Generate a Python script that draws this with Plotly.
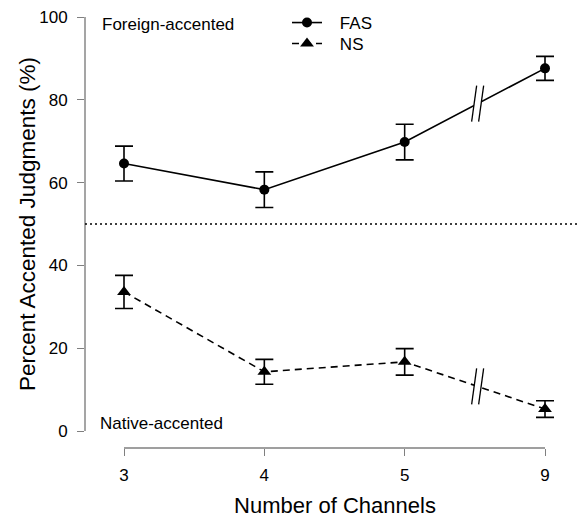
import plotly.graph_objects as go

channels = ["3", "4", "5", "9"]
fas = [64.6, 58.3, 69.8, 87.6]
fas_err = [4.2, 4.3, 4.3, 2.9]
ns = [33.6, 14.3, 16.7, 5.3]
ns_err = [4.0, 3.0, 3.2, 2.0]
y_ticks = [0, 20, 40, 60, 80, 100]

xs = list(range(len(channels)))
FONT = "Arial, Liberation Sans, sans-serif"
GREY = "#7f7f7f"

# page body has an 8px margin: figure is sized/offset to compensate
W, H = 577, 510
L, T, B, R = 77, 9, 70, 0
PW = W - L - R
PH = H - T - B

PAD = "\u00a0\u00a0\u2009"

fig = go.Figure()
fig.add_trace(go.Scatter(
    x=xs, y=fas, name=PAD + "FAS", mode="lines+markers", legend="legend",
    line=dict(color="black", width=1.6),
    marker=dict(symbol="circle", size=10, color="black"),
    error_y=dict(type="data", array=fas_err, color="black", thickness=1.6, width=9),
))
fig.add_trace(go.Scatter(
    x=xs, y=ns, name=PAD + "NS", mode="lines+markers", legend="legend2",
    line=dict(color="black", width=1.6, dash="7px,5px"),
    marker=dict(symbol="triangle-up", size=12, color="black"),
    error_y=dict(type="data", array=ns_err, color="black", thickness=1.6, width=9),
))

shapes = []
shapes.append(dict(type="line", xref="paper", yref="y", x0=0, x1=0, y0=0, y1=100,
                   line=dict(color=GREY, width=1.4)))
shapes.append(dict(type="line", xref="x", yref="paper", x0=0, x1=len(channels) - 1, y0=0, y1=0,
                   line=dict(color=GREY, width=1.4)))
shapes.append(dict(type="line", xref="paper", yref="y", x0=0, x1=1, y0=50, y1=50,
                   line=dict(color="black", width=1.5, dash="2px,3px")))
xb = 2.52
for series in (fas, ns):
    yb = series[2] + (series[3] - series[2]) * (xb - 2)
    common = dict(xref="x", yref="y", xsizemode="pixel", ysizemode="pixel", xanchor=xb, yanchor=yb)
    shapes.append(dict(type="path", path="M -6,-18 L -1,18 L 6,18 L 1,-18 Z",
                       fillcolor="white", line=dict(width=0), **common))
    shapes.append(dict(type="path", path="M -6,-18 L -1,18", line=dict(color="black", width=1.3), **common))
    shapes.append(dict(type="path", path="M 1,-18 L 6,18", line=dict(color="black", width=1.3), **common))

leg_common = dict(xanchor="left", yanchor="top", bgcolor="rgba(0,0,0,0)",
                  font=dict(size=17))

fig.update_layout(
    width=W, height=H,
    margin=dict(l=L, r=R, t=T, b=B, autoexpand=False),
    paper_bgcolor="white", plot_bgcolor="white",
    font=dict(family=FONT, size=17, color="black"),
    showlegend=True,
    legend=dict(x=0.404, y=1 + 12 / PH, **leg_common),
    legend2=dict(x=0.404, y=1 - 9 / PH, **leg_common),
    shapes=shapes,
    annotations=[
        dict(text="Foreign-accented", xref="paper", yref="y", x=15 / PW, y=98.3,
             xanchor="left", yanchor="middle", showarrow=False, font=dict(size=17)),
        dict(text="Native-accented", xref="paper", yref="y", x=13 / PW, y=1.7,
             xanchor="left", yanchor="middle", showarrow=False, font=dict(size=17)),
        dict(text="Percent Accented Judgments (%)", xref="paper", yref="y", x=(27 - 85) / PW,
             y=50, xanchor="center", yanchor="middle", textangle=-90, showarrow=False,
             font=dict(size=22.5)),
    ],
    xaxis=dict(
        range=[-39 / 140.33, 3 + 40 / 140.33],
        tickmode="array", tickvals=xs, ticktext=channels,
        showgrid=False, zeroline=False, showline=False,
        ticks="outside", ticklen=7, tickwidth=1.4, tickcolor=GREY,
        ticklabelstandoff=5, ticklabeloverflow="allow",
        title=dict(text="Number of Channels", font=dict(size=22), standoff=20),
    ),
    yaxis=dict(
        range=[-17 / 4.14, 100],
        tickmode="array", tickvals=y_ticks,
        showgrid=False, zeroline=False, showline=False,
        ticks="outside", ticklen=7, tickwidth=1.4, tickcolor=GREY,
        ticklabelstandoff=6, ticklabeloverflow="allow",
    ),
)

fig.write_html("out.html")
